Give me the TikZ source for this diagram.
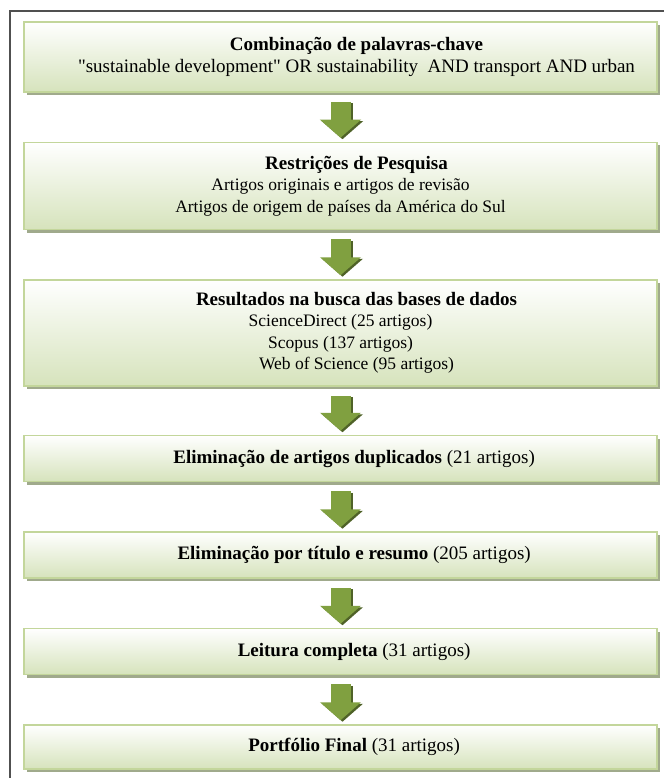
\documentclass[tikz,border=0pt]{standalone}
\usepackage{fontspec}
\setmainfont{Liberation Serif}[Ligatures=TeXOff]
\usetikzlibrary{positioning, arrows.meta, shadows}

\definecolor{stageborder}{RGB}{195,214,155}
\definecolor{stagefill}{RGB}{214,227,188}
\definecolor{stageshadow}{RGB}{160,170,140}
\definecolor{flowgreen}{RGB}{128,160,64}
\definecolor{flowdark}{RGB}{79,98,40}
\definecolor{framegray}{RGB}{80,80,80}

% lines in the source are set a little right of the box centre
\newcommand{\nudge}{\hspace*{32pt}}
\newcommand{\bodysize}{\fontsize{17.5}{21.5}\selectfont}

\begin{document}
\begin{tikzpicture}[
      node distance=49pt,
      stage/.style={
        draw=stageborder,
        line width=1.5pt,
        top color=white,
        bottom color=stagefill,
        drop shadow={shadow xshift=3pt, shadow yshift=-3pt, fill=stageshadow, opacity=1},
        minimum width=633pt,
        align=center,
        font=\fontsize{19}{21.5}\selectfont
      },
      flow/.style={
        -{Triangle[width=40pt, length=18pt]},
        line width=20pt,
        draw=flowgreen,
        shorten <=9pt,
        shorten >=4pt
      },
      flowshade/.style={
        flow,
        draw=flowdark,
        transform canvas={shift={(2pt,-1.5pt)}}
      }
    ]
    \useasboundingbox (0,0) rectangle (664pt,-778pt);
    \draw[framegray, line width=1.2pt] (10pt,-778pt) -- (10pt,-11pt) -- (664pt,-11pt);

    \node[stage, minimum height=70pt] (keywords) at (340.5pt,-57pt) {
      \nudge\textbf{Combinação de palavras-chave}\\
      \nudge"sustainable development" OR sustainability\ \ AND transport AND urban
    };

    \node[stage, minimum height=87pt, below=of keywords] (restrict) {
      \nudge\textbf{Restrições de Pesquisa}\\
      \bodysize Artigos originais e artigos de revisão\\
      \bodysize Artigos de origem de países da América do Sul
    };

    \node[stage, minimum height=106pt, below=of restrict] (results) {
      \nudge\textbf{Resultados na busca das bases de dados}\\
      \bodysize ScienceDirect (25 artigos)\\
      \bodysize Scopus (137 artigos)\\
      \bodysize\nudge Web of Science (95 artigos)
    };

    \node[stage, minimum height=46pt, below=48pt of results] (dupes) {
      \nudge\textbf{Eliminação de artigos duplicados} (21 artigos)
    };

    \node[stage, minimum height=46pt, below=of dupes] (screen) {
      \nudge\textbf{Eliminação por título e resumo} (205 artigos)
    };

    \node[stage, minimum height=46pt, below=of screen] (reading) {
      \nudge\textbf{Leitura completa} (31 artigos)
    };

    \node[stage, minimum height=44pt, below=of reading] (final) {
      \nudge\textbf{Portfólio Final} (31 artigos)
    };

    % block arrows between the stages
    \foreach \from/\to in {keywords/restrict, restrict/results, results/dupes,
                           dupes/screen, screen/reading, reading/final} {
      \draw[flowshade] (\from.south) -- (\to.north);
      \draw[flow] (\from.south) -- (\to.north);
    }

\end{tikzpicture}
\end{document}
